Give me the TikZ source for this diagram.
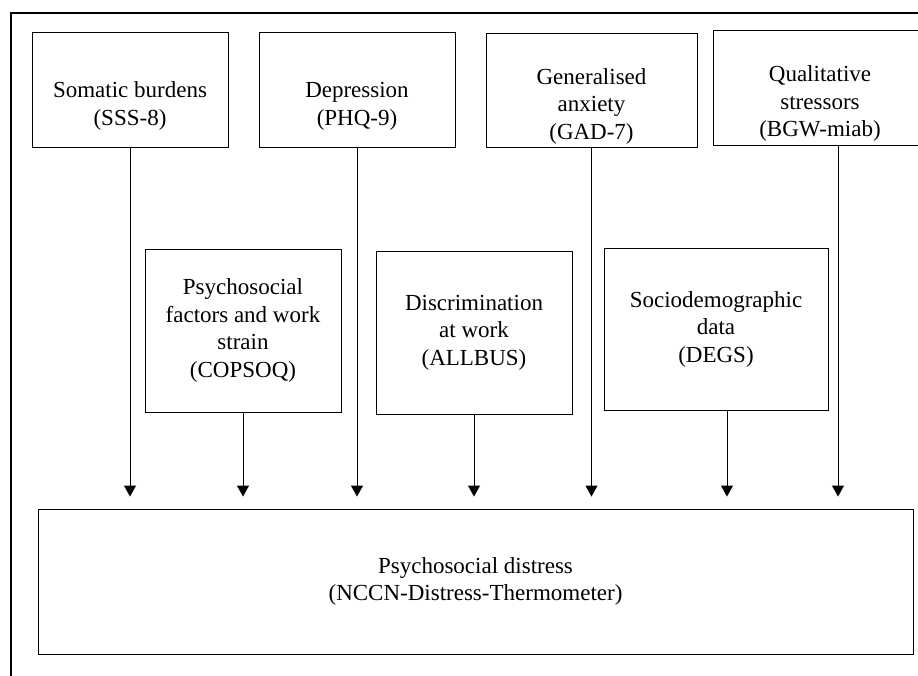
\documentclass[tikz,border=0pt]{standalone}
\usepackage{fontspec}
\setmainfont{Liberation Serif}
\usepackage{tikz}
\usetikzlibrary{arrows.meta}
\newcommand{\lowered}[1]{\raisebox{-22.5pt}[0pt][0pt]{\begin{tabular}{@{}c@{}}#1\end{tabular}}}
\tikzset{measure/.style = {draw, line width=0.9pt, align=center, inner sep=0pt,
  font=\fontsize{23}{27.5}\selectfont},
  feed/.style = {-{Triangle[width=12pt,length=11pt]}, line width=1pt, shorten >=12pt}}

\begin{document}
\begin{tikzpicture}[x=1pt,y=-1pt]
  \useasboundingbox (0,0) rectangle (918,676);
  \clip (0,0) rectangle (918,676);
  \draw[line width=1.8pt] (11,676) -- (11,13) -- (918,13);
  % top row
  \node[measure, minimum width=196pt, minimum height=115pt] (s1) at (130,89.5) {\lowered{Somatic burdens\\(SSS-8)}};
  \node[measure, minimum width=196pt, minimum height=115pt] (s2) at (357,89.5) {\lowered{Depression\\(PHQ-9)}};
  \node[measure, minimum width=211pt, minimum height=114pt] (s3) at (591.5,90) {\lowered{Generalised\\anxiety\\(GAD-7)}};
  \node[measure, minimum width=214pt, minimum height=115pt] (s4) at (820,87.5) {\lowered{Qualitative\\stressors\\(BGW-miab)}};
  % middle row
  \node[measure, minimum width=196pt, minimum height=163pt] (s5) at (243,330.5) {Psychosocial\\factors and work\\strain\\(COPSOQ)};
  \node[measure, minimum width=196pt, minimum height=163pt] (s6) at (474,332.5) {Discrimination\\at work\\(ALLBUS)};
  \node[measure, minimum width=224pt, minimum height=162pt] (s7) at (716,329) {Sociodemographic\\data\\(DEGS)};
  % outcome
  \node[measure, minimum width=875pt, minimum height=145pt] (dist) at (475.5,581.5) {Psychosocial distress\\(NCCN-Distress-Thermometer)};
  \coordinate (t4) at ([xshift=18pt]s4.south);
  \coordinate (t7) at ([xshift=11pt]s7.south);
  \draw[feed] (s1.south) -- (s1.south |- dist.north);
  \draw[feed] (s5.south) -- (s5.south |- dist.north);
  \draw[feed] (s2.south) -- (s2.south |- dist.north);
  \draw[feed] (s6.south) -- (s6.south |- dist.north);
  \draw[feed] (s3.south) -- (s3.south |- dist.north);
  \draw[feed] (t7) -- (t7 |- dist.north);
  \draw[feed] (t4) -- (t4 |- dist.north);
\end{tikzpicture}
\end{document}
